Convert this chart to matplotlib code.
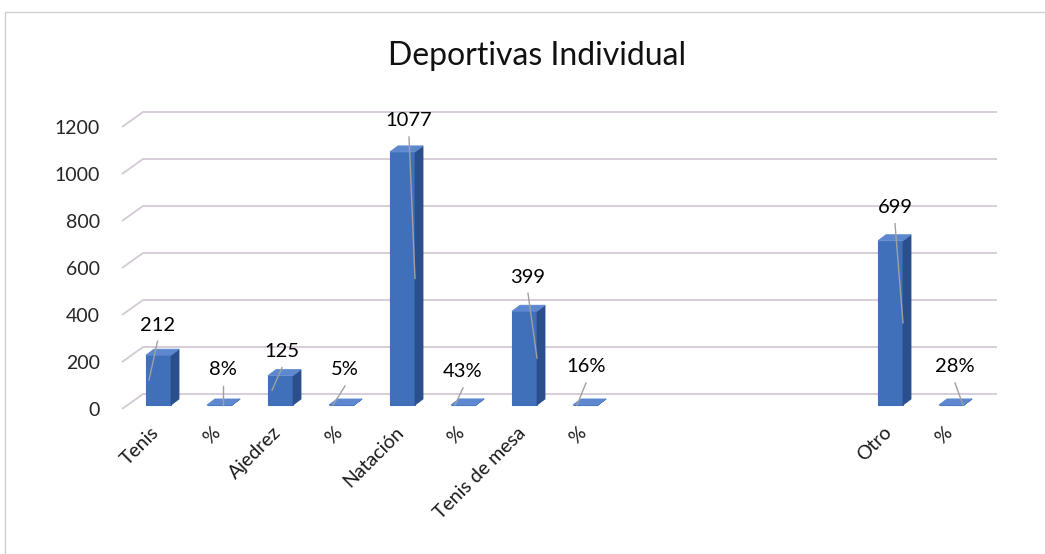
import numpy as np
import matplotlib
matplotlib.use("Agg")
import matplotlib.pyplot as plt
from matplotlib.patches import Polygon, Rectangle
from matplotlib.transforms import ScaledTranslation

# ---------------- data ----------------
title = "Deportivas Individual"
categories = ["Tenis", "%", "Ajedrez", "%", "Natación", "%", "Tenis de mesa", "%",
              "", "", "", "", "Otro", "%"]
values = [212, 0.08, 125, 0.05, 1077, 0.43, 399, 0.16,
          np.nan, np.nan, np.nan, np.nan, 699, 0.28]
is_percent = [False, True, False, True, False, True, False, True,
              False, False, False, False, False, True]
y_ticks = [0, 200, 400, 600, 800, 1000, 1200]

# ---------------- layout (pixels) ----------------
label_dx = [-1, 3.5, 1.5, 3.5, 6.5, -0.5, 3.5, 0.5, 0, 0, 0, 0, 4.5, 3.5]
label_dy = [30, 35, 24, 35, 31, 33, 34, 38, 0, 0, 0, 0, 33, 38]
leader_dx = [-9.5, 3.5, -8.5, -8.5, 12.5, -8.5, 12.5, -8.5, 0, 0, 0, 0, 12.5, 11.5]

plt.rcParams['font.family'] = ['Lato', 'DejaVu Sans']

W_PX, H_PX = 1045, 554
fig = plt.figure(figsize=(W_PX / 100, H_PX / 100), dpi=100)
fig.patch.set_facecolor('white')

AX_L, AX_R = 122, 976
AX_B, AX_T = 409, 127
ax = fig.add_axes([AX_L / W_PX, 1 - AX_B / H_PX, (AX_R - AX_L) / W_PX, (AX_B - AX_T) / H_PX])
n = len(categories)
ax.set_xlim(-0.5, n - 0.5)
ax.set_ylim(y_ticks[0], y_ticks[-1])
ax.set_facecolor('none')
for s in ax.spines.values():
    s.set_visible(False)

px_x = (AX_R - AX_L) / n
px_y = (AX_B - AX_T) / (y_ticks[-1] - y_ticks[0])
def dx(p):
    return p / px_x
def dy(p):
    return p / px_y

grid_c = '#d3c9d6'
front_c = '#4170ba'
side_c = '#2a4f8c'
top_c = '#5d88cf'
leader_c = '#a0a0a0'

# back-wall gridlines with floor diagonals
WALL_X, WALL_Y = 21, 15
for v in y_ticks:
    ax.plot([-0.5, -0.5 + dx(WALL_X), n - 0.5 + dx(WALL_X)],
            [v, v + dy(WALL_Y), v + dy(WALL_Y)],
            color=grid_c, lw=1.3, clip_on=False, zorder=1, solid_capstyle='butt')

# bars (front faces) + pseudo 3D side/top faces
BAR_OX, BAR_OY = 6, 4
DEPTH_X, DEPTH_Y = 8, 6
BW = 0.41
xs = np.arange(n)
base = dy(BAR_OY)
bars = ax.bar(xs + dx(BAR_OX), values, width=BW, bottom=base,
              color=front_c, edgecolor=front_c, lw=0.8, zorder=3)
for i, p in enumerate(bars.patches):
    v = values[i]
    if np.isnan(v):
        continue
    x0 = p.get_x()
    x1 = x0 + p.get_width()
    y0 = p.get_y()
    y1 = y0 + p.get_height()
    side = Polygon([(x1, y0), (x1 + dx(DEPTH_X), y0 + dy(DEPTH_Y)),
                    (x1 + dx(DEPTH_X), y1 + dy(DEPTH_Y)), (x1, y1)],
                   closed=True, facecolor=side_c, edgecolor=side_c, lw=0.6, zorder=3)
    top = Polygon([(x0, y1), (x1, y1), (x1 + dx(DEPTH_X), y1 + dy(DEPTH_Y)),
                   (x0 + dx(DEPTH_X), y1 + dy(DEPTH_Y))],
                  closed=True, facecolor=top_c, edgecolor=top_c, lw=0.6, zorder=3)
    ax.add_patch(side)
    ax.add_patch(top)

    cx = x0 + p.get_width() / 2
    lx = cx + dx(label_dx[i])
    ly = y1 + dy(label_dy[i])
    txt = f"{v:.0%}" if is_percent[i] else f"{v:.0f}"
    ax.text(lx, ly, txt, ha='center', va='center', fontsize=14.5, color='#000000',
            zorder=6, clip_on=False)
    ax.plot([lx, cx + dx(leader_dx[i])], [ly - dy(16), y0 + (y1 - y0) / 2],
            color=leader_c, lw=1.0, zorder=5, clip_on=False)

# axes ticks
ax.set_yticks(y_ticks)
ax.set_yticklabels([str(t) for t in y_ticks], fontsize=14, color='#262626')
ax.tick_params(axis='y', length=0, pad=16)
ax.set_xticks(xs)
ax.set_xticklabels(categories, fontsize=14, color='#1a1a1a', rotation=45,
                   ha='right', va='center', rotation_mode='anchor')
ax.tick_params(axis='x', length=0, pad=15)
shift = ScaledTranslation(4 / 100, 0, fig.dpi_scale_trans)
for lab in ax.get_xticklabels():
    lab.set_transform(lab.get_transform() + shift)

# title
fig.text(537 / W_PX, 1 - 56 / H_PX, title, ha='center', va='center',
         fontsize=23, color='#111111')

# chart border
fig.patches.append(Rectangle((5 / W_PX, -0.05), 1.1, 1 - 12 / H_PX + 0.05,
                             transform=fig.transFigure, fill=False,
                             edgecolor='#cfcfcf', lw=1.0))

fig.savefig('out.png', dpi=100, facecolor='white')
